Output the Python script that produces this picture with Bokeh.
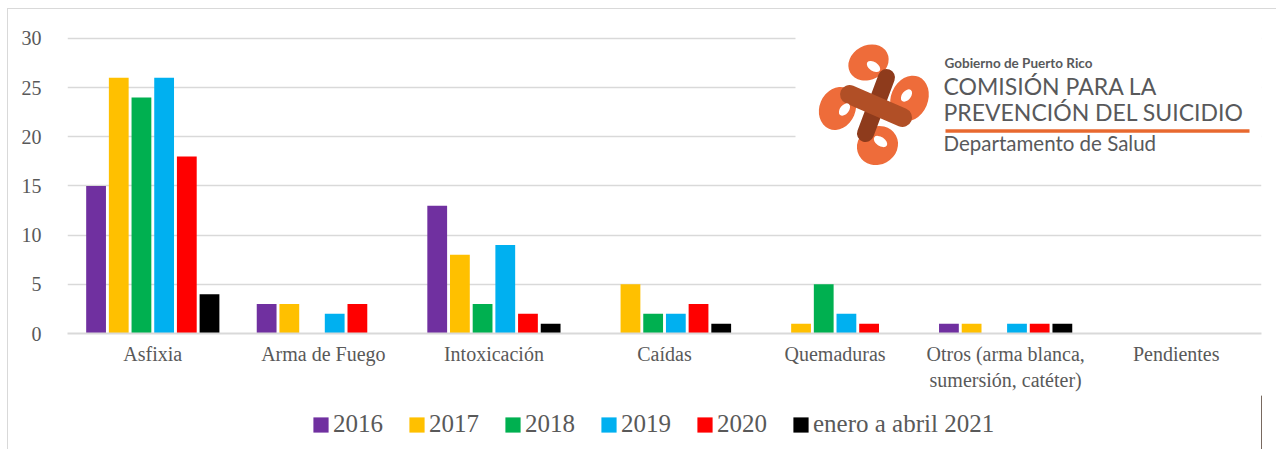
from bokeh.plotting import figure
from bokeh.layouts import column
from bokeh.models import Range1d, FixedTicker, Legend, LegendItem, Label
from bokeh.embed import file_html
from bokeh.resources import INLINE

categories = ["Asfixia", "Arma de Fuego", "Intoxicación", "Caídas", "Quemaduras",
              "Otros (arma blanca,\nsumersión, catéter)", "Pendientes"]
series_names = ["2016", "2017", "2018", "2019", "2020", "enero a abril 2021"]
v2016 = [15, 3, 13, 0, 0, 1, 0]
v2017 = [26, 3, 8, 5, 1, 1, 0]
v2018 = [24, 0, 3, 2, 5, 0, 0]
v2019 = [26, 2, 9, 2, 2, 1, 0]
v2020 = [18, 3, 2, 3, 1, 1, 0]
v2021 = [4, 0, 1, 1, 0, 1, 0]
series_values = [v2016, v2017, v2018, v2019, v2020, v2021]
colors = ["#7030A0", "#FFC000", "#00B050", "#00B0F0", "#FF0000", "#000000"]
y_ticks = [0, 5, 10, 15, 20, 25, 30]

SERIF = "Liberation Serif"
SANS = "Lato"
TXT = "#595959"
BORDER = "#d9d9d9"

W = 1276
H1 = 395
H2 = 54
YMAX = 30.3
# frame geometry in page pixels
FX0, FX1, FYB, FYT = 67, 1261, 333, 35

grad = f"linear-gradient({BORDER}, {BORDER})"
border_css = {"background-color": "white",
              "background-image": f"{grad}, {grad}",
              "background-size": "1px 100%, 100% 1px",
              "background-position": "7px 8px, 7px 8px",
              "background-repeat": "no-repeat"}

p = figure(width=W, height=H1, x_range=Range1d(0, len(categories)), y_range=Range1d(0, YMAX),
           output_backend="svg", toolbar_location=None,
           min_border_left=FX0, min_border_right=W - FX1, min_border_top=FYT,
           min_border_bottom=H1 - FYB)
p.outline_line_color = None
p.background_fill_color = "white"
p.border_fill_color = None

def dx(px):
    return (px - FX0) / (FX1 - FX0) * len(categories)
def dy(py):
    return (FYB - py) / (FYB - FYT) * YMAX

# grid / axes
p.xgrid.visible = False
p.ygrid.grid_line_color = "#d9d9d9"
p.ygrid.grid_line_width = 1.5
p.yaxis.ticker = FixedTicker(ticks=y_ticks)
p.yaxis.axis_line_color = None
p.yaxis.major_tick_line_color = None
p.yaxis.minor_tick_line_color = None
p.yaxis.major_label_standoff = 20
p.yaxis.major_label_text_font = SERIF
p.yaxis.major_label_text_font_size = "20px"
p.yaxis.major_label_text_color = TXT

centers = [i + 0.5 for i in range(len(categories))]
p.xaxis.ticker = FixedTicker(ticks=centers)
p.xaxis.major_label_overrides = {c: lab for c, lab in zip(centers, categories)}
p.xaxis.axis_line_color = "#d9d9d9"
p.xaxis.axis_line_width = 2
p.xaxis.major_tick_line_color = None
p.xaxis.minor_tick_line_color = None
p.xaxis.major_label_standoff = 3
p.xaxis.major_label_text_font = SERIF
p.xaxis.major_label_text_font_size = "20px"
p.xaxis.major_label_text_color = TXT

# bars
step = 0.133
bw = 0.116
for k, (name, vals, col) in enumerate(zip(series_names, series_values, colors)):
    xs = [c + (k - 2.5) * step for c in centers]
    p.vbar(x=xs, top=vals, width=bw, bottom=0, fill_color=col, line_color=None)

# ---- decorative logo (white panel covering the grid) ----
p.quad(left=dx(795), right=len(categories) + 0.2, bottom=dy(172), top=YMAX + 1,
       fill_color="white", line_color=None)

ORANGE = "#EE6C3A"
DARK = "#8E3B1C"
MID = "#B14F26"
lobes = [(868, 62, 42, 34, 0.5), (877, 145, 42, 38, 0.5), (837, 108, 36, 44, -0.4), (909, 98, 37, 47, -0.4)]
p.ellipse(x=[dx(a[0]) for a in lobes], y=[dy(a[1]) for a in lobes],
          width=[a[2] for a in lobes], height=[a[3] for a in lobes],
          angle=[a[4] for a in lobes], width_units="screen", height_units="screen",
          fill_color=ORANGE, line_color=None)
p.segment(x0=[dx(886)], y0=[dy(77)], x1=[dx(865)], y1=[dy(133)], line_color=DARK, line_width=17,
          line_cap="round")
p.segment(x0=[dx(849)], y0=[dy(94)], x1=[dx(902)], y1=[dy(117)], line_color=MID, line_width=19,
          line_cap="round")
holes = [(873, 66, 15, 9, -0.6), (880, 141, 15, 9, -0.6), (844, 109, 14, 9, 0.9), (906, 95, 14, 9, 0.9)]
p.ellipse(x=[dx(a[0]) for a in holes], y=[dy(a[1]) for a in holes],
          width=[a[2] for a in holes], height=[a[3] for a in holes],
          angle=[a[4] for a in holes], width_units="screen", height_units="screen",
          fill_color="white", line_color=None)

LOGO_TXT = "#58595B"
def logo_text(px, baseline_py, text, size, bold=False):
    # compensate the label's baseline placement (measured offset ~0.4 em)
    p.add_layout(Label(x=dx(px), y=dy(baseline_py - 0.4 * size), text=text, text_font=SANS,
                       text_font_style="bold" if bold else "normal",
                       text_font_size=f"{size}px", text_color=LOGO_TXT,
                       text_baseline="alphabetic"))

logo_text(944, 68, "Gobierno de Puerto Rico", 13.5, bold=True)
logo_text(943, 95, "COMISIÓN PARA LA", 23)
logo_text(943, 121, "PREVENCIÓN DEL SUICIDIO", 23)
p.segment(x0=[dx(945)], y0=[dy(130.5)], x1=[dx(1249)], y1=[dy(130.5)], line_color="#E8692F",
          line_width=3.5)
logo_text(943, 151, "Departamento de Salud", 20.5)

# ---- legend strip below the chart (its frame is aligned with the chart's frame) ----
p2 = figure(width=W, height=H2, x_range=Range1d(0, 1), y_range=Range1d(0, 1),
            x_axis_location=None, y_axis_location=None,
            output_backend="svg", toolbar_location=None,
            min_border_left=0, min_border_right=0, min_border_top=0, min_border_bottom=0)
p2.grid.visible = False
p2.outline_line_color = None
p2.border_fill_color = None
p2.background_fill_color = "white"
items = []
for name, col in zip(series_names, colors):
    r = p2.vbar(x=[5], top=[1], width=0.1, fill_color=col, line_color=None)
    items.append(LegendItem(label=name, renderers=[r]))
legend = Legend(items=items, orientation="horizontal", location=(244, 11),
                border_line_color=None, background_fill_alpha=0,
                glyph_width=19, glyph_height=19, label_standoff=3, spacing=24,
                label_text_font=SERIF, label_text_font_size="25px", label_text_color=TXT,
                margin=0, padding=4)
p2.add_layout(legend, "center")

layout = column(p, p2)
layout.styles = border_css
open("out.html", "w").write(file_html(layout, INLINE))
